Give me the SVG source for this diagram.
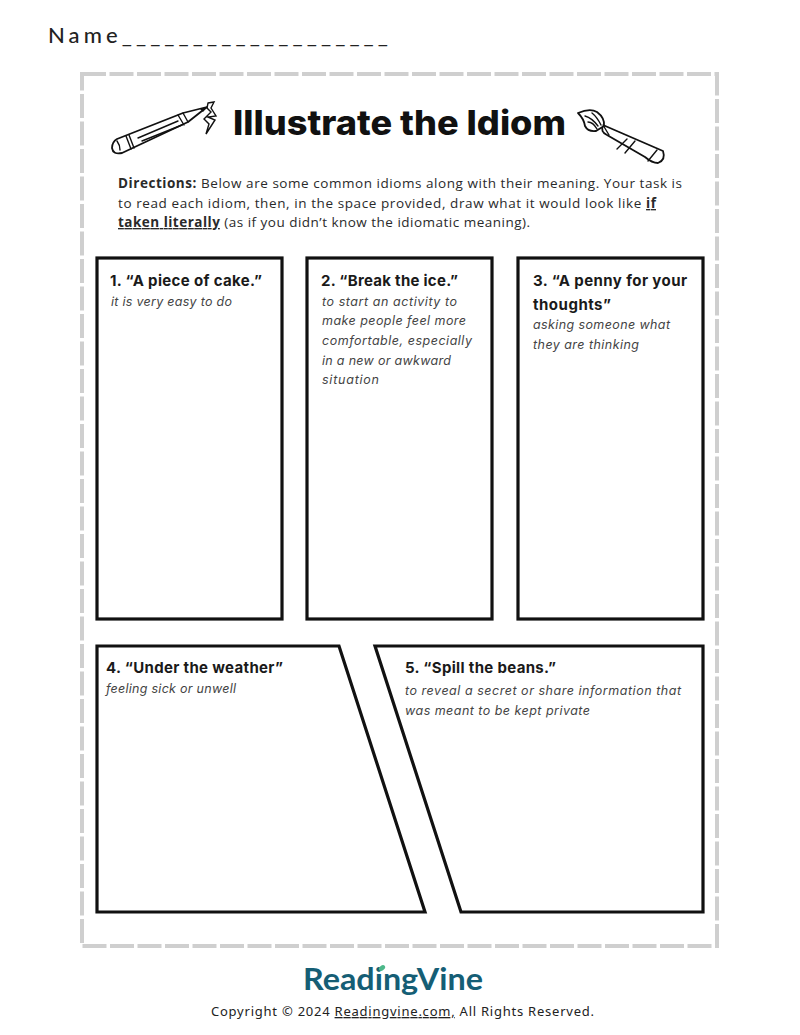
<svg xmlns="http://www.w3.org/2000/svg" width="800" height="1035" viewBox="0 0 800 1035">
<style>
.b{fill:#fff;stroke:#111;stroke-width:3.2}
.h{font:700 15px "Inter","Liberation Sans",sans-serif;fill:#1a1a1a}
.m{font:italic 400 12.5px "Inter","Liberation Sans",sans-serif;fill:#444}
.d{font:400 13.5px "Open Sans","Liberation Sans",sans-serif;fill:#2a2a2a}
.i{fill:#fff;stroke:#111;stroke-width:1.8;stroke-linejoin:round;stroke-linecap:round}
.l{fill:none;stroke:#111;stroke-width:1.4;stroke-linecap:round}
</style>
<rect width="800" height="1035" fill="#fff"/>
<text x="48" y="43" font-family="Lato,'Noto Sans',sans-serif" font-size="22" font-weight="500" fill="#222" textLength="340" lengthAdjust="spacing">Name___________________</text>
<path id="frame" d="M82 74H717V946H82Z" fill="none" stroke="#cfcfcf" stroke-width="4" stroke-dasharray="24 3.5"/>
<g id="pencil">
<path class="i" d="M117 139L183 113L207 107L188 122L122 153Q113 155 112 148Q112 142 117 139Z"/>
<path class="l" d="M126 136L131 149M129 135L134 148M183 113L188 122M178 115L184 125M138 138L178 121M142 141L182 125M117 141Q120 145 120 150"/>
<path d="M200 109L207 107L203 112Z" fill="#111"/>
<path class="l" stroke-width="1.8" d="M208 103L214 102L211 108L216 116L208 117L215 120L206 134L209 124L204 119L211 112L207 108Z"/>
</g>
<text id="title" x="233" y="135" font-family="Inter,'Liberation Sans',sans-serif" font-size="34" font-weight="800" fill="#111" textLength="333" lengthAdjust="spacingAndGlyphs">Illustrate the Idiom</text>
<g id="brush">
<path class="i" d="M603 125L663 151Q666 160 658 163Q652 163 645 157L607 135Q600 132 603 125Z"/>
<path class="i" d="M578 113Q590 108 597 112Q605 118 604 126L596 131Q588 132 585 126Q584 119 578 113Z"/>
<path class="l" d="M585 116Q592 118 598 126M588 122Q593 122 597 129M592 113Q597 117 601 125M627 139L617 149M635 141L625 153M657 150L648 161M603 125L609 135"/>
</g>
<g id="directions">
<text class="d" x="118" y="188" textLength="564"><tspan font-weight="700">Directions:</tspan> Below are some common idioms along with their meaning. Your task is</text>
<text class="d" x="118" y="208" textLength="538">to read each idiom, then, in the space provided, draw what it would look like <tspan font-weight="700" text-decoration="underline">if</tspan></text>
<text class="d" x="118" y="227" textLength="412"><tspan font-weight="700" text-decoration="underline">taken literally</tspan> (as if you didn’t know the idiomatic meaning).</text>
</g>
<g id="box1"><rect class="b" x="97" y="258" width="185" height="361"/>
<text class="h" x="110" y="286" textLength="152">1. “A piece of cake.”</text>
<text class="m" x="111" y="306" textLength="121">it is very easy to do</text></g>
<g id="box2"><rect class="b" x="307" y="258" width="185" height="361"/>
<text class="h" x="321" y="286" textLength="137">2. “Break the ice.”</text>
<text class="m" x="322" y="306" textLength="135">to start an activity to</text>
<text class="m" x="322" y="325" textLength="144">make people feel more</text>
<text class="m" x="322" y="345" textLength="150">comfortable, especially</text>
<text class="m" x="322" y="365" textLength="129">in a new or awkward</text>
<text class="m" x="322" y="384" textLength="57">situation</text></g>
<g id="box3"><rect class="b" x="518" y="258" width="185" height="361"/>
<text class="h" x="533" y="286" textLength="154">3. “A penny for your</text>
<text class="h" x="533" y="310" textLength="78">thoughts”</text>
<text class="m" x="533" y="329" textLength="137">asking someone what</text>
<text class="m" x="533" y="349" textLength="106">they are thinking</text></g>
<g id="box4"><path class="b" d="M97 646H339L425 912H97Z"/>
<text class="h" x="106" y="673" textLength="177">4. “Under the weather”</text>
<text class="m" x="106" y="693" textLength="130">feeling sick or unwell</text></g>
<g id="box5"><path class="b" d="M375 646H703V912H461Z"/>
<text class="h" x="405" y="673" textLength="151">5. “Spill the beans.”</text>
<text class="m" x="405" y="695" textLength="276">to reveal a secret or share information that</text>
<text class="m" x="405" y="715" textLength="185">was meant to be kept private</text></g>
<g id="footer">
<text x="303" y="990" font-family="Lato,'Noto Sans',sans-serif" font-size="30" font-weight="700" fill="#155e75" textLength="180" lengthAdjust="spacingAndGlyphs">ReadingVine</text>
<ellipse cx="382" cy="968" rx="3.5" ry="2.4" fill="#4db88a" transform="rotate(-40 382 968)"/>
<text x="211" y="1016" font-family="'Noto Sans','Liberation Sans',sans-serif" font-size="13" fill="#222" textLength="383">Copyright © 2024 <tspan text-decoration="underline">Readingvine.com,</tspan> All Rights Reserved.</text>
</g>
</svg>
